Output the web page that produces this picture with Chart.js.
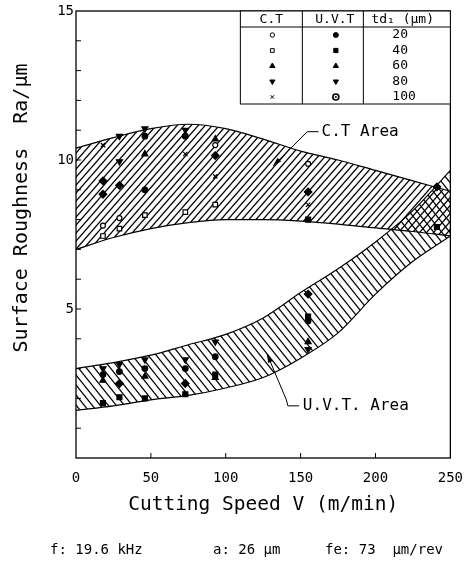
<!DOCTYPE html>
<html>
<head>
<meta charset="utf-8">
<script src="https://cdn.jsdelivr.net/npm/chart.js@4.4.1/dist/chart.umd.min.js"></script>
<style>
  html, body { margin: 0; padding: 0; background: #fff; }
  canvas { display: block; }
</style>
</head>
<body>
<canvas id="myChart" width="475" height="568"></canvas>
<script>
const MONO = "'DejaVu Sans Mono', monospace";

// band boundaries (Ra in um) read at these cutting speeds (m/min)
const speedGrid = [0, 25, 50, 75, 100, 125, 150, 175, 200, 225, 250];
const ctUpper  = [10.4, 10.75, 11.05, 11.2, 11.05, 10.7, 10.3, 10.0, 9.65, 9.3, 8.95];
const ctLower  = [7.0, 7.4, 7.7, 7.9, 8.0, 8.0, 7.95, 7.85, 7.72, 7.6, 7.45];
const uvtUpper = [3.0, 3.2, 3.45, 3.8, 4.15, 4.7, 5.55, 6.35, 7.25, 8.3, 9.65];
const uvtLower = [1.6, 1.75, 1.95, 2.1, 2.35, 2.7, 3.35, 4.2, 5.5, 6.6, 7.45];

// measured points, conventional cutting (C.T)
const ct20V = [18, 29, 93, 155];          const ct20Ra = [7.8, 8.05, 10.5, 9.87];
const ct40V = [18, 29, 46, 73, 93];       const ct40Ra = [7.45, 7.7, 8.15, 8.25, 8.5];
const ct60V = [46, 93];                   const ct60Ra = [10.2, 10.7];
const ct80V = [29, 29, 46];               const ct80Ra = [9.95, 10.8, 11.05];
const ct100V = [18, 73, 93, 155];         const ct100Ra = [10.5, 10.2, 9.45, 8.5];

// measured points, ultrasonic vibration cutting (U.V.T)
const uvt20V = [46, 73, 46, 18, 29, 46, 73, 93, 155];
const uvt20Ra = [9.0, 10.8, 10.8, 2.8, 2.9, 3.0, 3.0, 3.4, 4.6];
const uvt40V = [155, 241, 18, 29, 46, 73, 93, 155];
const uvt40Ra = [8.0, 7.75, 1.84, 2.04, 2.0, 2.14, 2.8, 4.75];
const uvt60V = [18, 46, 93, 155];         const uvt60Ra = [2.6, 2.74, 2.7, 3.9];
const uvt80V = [73, 18, 29, 46, 73, 93, 155];
const uvt80Ra = [11.0, 3.0, 3.14, 3.3, 3.3, 3.9, 3.65];
const uvt100V = [18, 29, 18, 93, 155, 241, 29, 73, 155];
const uvt100Ra = [9.3, 9.15, 8.85, 10.15, 8.93, 9.1, 2.5, 2.5, 5.5];

const tdLabels = ['20', '40', '60', '80', '100'];
const yLabelled = [5, 10, 15];

const toPoints = (xs, ys) => xs.map((v, i) => ({ x: v, y: ys[i] }));

function hatch(w, h, dir) {
    const c = document.createElement('canvas');
    c.width = w; c.height = h;
    const g = c.getContext('2d');
    g.strokeStyle = '#000';
    g.lineWidth = 1.25;
    for (let k = -1; k <= 1; k++) {
        g.beginPath();
        if (dir > 0) { g.moveTo(k * w - w, 2 * h); g.lineTo(k * w + 2 * w, -h); }
        else { g.moveTo(k * w - w, -h); g.lineTo(k * w + 2 * w, 2 * h); }
        g.stroke();
    }
    return g.createPattern(c, 'repeat');
}

const ctHatch = hatch(7, 8, 1);
const uvtHatch = hatch(8, 10, -1);

function marks(label, xs, ys, style, fill, radius, rotation) {
    return {
        label: label,
        data: toPoints(xs, ys),
        pointStyle: style,
        pointRadius: radius,
        pointRotation: rotation || 0,
        pointBackgroundColor: fill,
        pointBorderColor: '#000',
        pointBorderWidth: 1.2,
        showLine: false
    };
}

function boundary(label, ys, fill, pattern) {
    return {
        type: 'line',
        label: label,
        data: toPoints(speedGrid, ys),
        borderColor: '#000',
        borderWidth: 1.2,
        pointRadius: 0,
        pointHitRadius: 0,
        cubicInterpolationMode: 'monotone',
        fill: fill,
        backgroundColor: pattern || 'transparent'
    };
}

const legendRows = [
    { ct: { style: 'circle', fill: '#fff', r: 2.2 }, uvt: { style: 'circle', fill: '#000', r: 2.5 } },
    { ct: { style: 'rect', fill: '#fff', r: 2.6 }, uvt: { style: 'rect', fill: '#000', r: 3 } },
    { ct: { style: 'triangle', fill: '#000', r: 3 }, uvt: { style: 'triangle', fill: '#000', r: 3 } },
    { ct: { style: 'triangle', fill: '#000', r: 3, rot: 180 }, uvt: { style: 'triangle', fill: '#000', r: 3, rot: 180 } },
    { ct: { style: 'crossRot', fill: '#000', r: 2.5 }, uvt: { style: 'bull', fill: '#000', r: 3 } }
];

function drawSymbol(ctx, s, x, y) {
    if (s.style === 'bull') {
        ctx.save();
        ctx.lineWidth = 1.6;
        ctx.beginPath(); ctx.arc(x, y, s.r, 0, Math.PI * 2); ctx.stroke();
        ctx.beginPath(); ctx.arc(x, y, 1, 0, Math.PI * 2); ctx.fill();
        ctx.restore();
        return;
    }
    ctx.fillStyle = s.fill;
    Chart.helpers.drawPoint(ctx, {
        pointStyle: s.style, radius: s.r, rotation: s.rot || 0, borderWidth: 1
    }, x, y);
}

function arrow(ctx, pts) {
    ctx.beginPath();
    ctx.moveTo(pts[0][0], pts[0][1]);
    for (let i = 1; i < pts.length; i++) ctx.lineTo(pts[i][0], pts[i][1]);
    ctx.stroke();
    const [x1, y1] = pts[pts.length - 2];
    const [x2, y2] = pts[pts.length - 1];
    const a = Math.atan2(y2 - y1, x2 - x1);
    ctx.beginPath();
    ctx.moveTo(x2, y2);
    ctx.lineTo(x2 - 9 * Math.cos(a) + 2.5 * Math.sin(a), y2 - 9 * Math.sin(a) - 2.5 * Math.cos(a));
    ctx.lineTo(x2 - 9 * Math.cos(a) - 2.5 * Math.sin(a), y2 - 9 * Math.sin(a) + 2.5 * Math.cos(a));
    ctx.closePath();
    ctx.fill();
}

const paperPlugin = {
    id: 'paper',
    afterDraw(chart) {
        const { ctx, chartArea: a, scales: { x, y } } = chart;
        const px = v => x.getPixelForValue(v);
        const py = v => y.getPixelForValue(v);
        ctx.save();
        ctx.strokeStyle = '#000';
        ctx.fillStyle = '#000';

        // frame + inward ticks
        ctx.lineWidth = 1.3;
        ctx.strokeRect(a.left, a.top, a.right - a.left, a.bottom - a.top);
        ctx.lineWidth = 1;
        ctx.beginPath();
        for (let v = 1; v < 15; v++) { ctx.moveTo(a.left, py(v)); ctx.lineTo(a.left + 5, py(v)); }
        for (let v = 50; v < 250; v += 50) { ctx.moveTo(px(v), a.bottom); ctx.lineTo(px(v), a.bottom - 5); }
        ctx.stroke();

        // legend table
        const tw = 210, th = 93, hh = 16;
        const tx = a.right - tw, ty = a.top;
        const c1 = tx + 62, c2 = tx + 123;
        ctx.fillStyle = '#fff';
        ctx.fillRect(tx, ty, tw, th);
        ctx.fillStyle = '#000';
        ctx.lineWidth = 1;
        ctx.strokeRect(tx, ty, tw, th);
        ctx.beginPath();
        ctx.moveTo(tx, ty + hh); ctx.lineTo(tx + tw, ty + hh);
        ctx.moveTo(c1, ty); ctx.lineTo(c1, ty + th);
        ctx.moveTo(c2, ty); ctx.lineTo(c2, ty + th);
        ctx.stroke();
        ctx.font = '13px ' + MONO;
        ctx.textBaseline = 'middle';
        ctx.textAlign = 'center';
        ctx.fillText('C.T', (tx + c1) / 2, ty + 9);
        ctx.fillText('U.V.T', (c1 + c2) / 2 + 2, ty + 9);
        ctx.textAlign = 'left';
        ctx.fillText('td\u2081 (\u03bcm)', c2 + 8, ty + 9);
        legendRows.forEach((row, i) => {
            const ry = ty + 24 + i * 15.5;
            drawSymbol(ctx, row.ct, (tx + c1) / 2 + 1, ry);
            drawSymbol(ctx, row.uvt, (c1 + c2) / 2 + 3, ry);
            ctx.fillStyle = '#000';
            ctx.textAlign = 'left';
            ctx.font = '13px ' + MONO;
            ctx.fillText(tdLabels[i], c2 + 29, ry);
        });

        // area labels with leaders
        ctx.lineWidth = 1;
        ctx.font = '16px ' + MONO;
        ctx.textAlign = 'left';
        ctx.fillText('C.T Area', px(164), py(10.95));
        arrow(ctx, [[px(162), py(10.95)], [px(154.5), py(10.95)], [px(131.5), py(9.8)]]);
        ctx.fillText('U.V.T. Area', px(151.5), py(1.75));
        arrow(ctx, [[px(149), py(1.75)], [px(141.5), py(1.75)], [px(140.5), py(1.95)], [px(127.5), py(3.5)]]);

        // y axis title
        ctx.save();
        ctx.translate(22, 208);
        ctx.rotate(-Math.PI / 2);
        ctx.textAlign = 'center';
        ctx.font = '20px ' + MONO;
        ctx.fillText('Surface Roughness  Ra/\u03bcm', 0, 0);
        ctx.restore();

        // test conditions
        ctx.font = '14px ' + MONO;
        ctx.textAlign = 'left';
        ctx.fillText('f: 19.6 kHz', 50, 550);
        ctx.fillText('a: 26 \u03bcm', 213, 550);
        ctx.fillText('fe: 73  \u03bcm/rev', 325, 550);
        ctx.restore();
    }
};

Chart.defaults.color = '#000';
Chart.defaults.font.family = MONO;

const chart = document.getElementById('myChart');
const myChart = new Chart(chart, {
    type: 'scatter',
    data: {
        datasets: [
            marks('C.T 20', ct20V, ct20Ra, 'circle', '#fff', 2.5),
            marks('C.T 40', ct40V, ct40Ra, 'rect', '#fff', 3.2),
            marks('C.T 60', ct60V, ct60Ra, 'triangle', '#000', 3.5),
            marks('C.T 80', ct80V, ct80Ra, 'triangle', '#000', 3.5, 180),
            marks('C.T 100', ct100V, ct100Ra, 'crossRot', '#000', 3),
            marks('U.V.T 20', uvt20V, uvt20Ra, 'circle', '#000', 2.8),
            marks('U.V.T 40', uvt40V, uvt40Ra, 'rect', '#000', 3.5),
            marks('U.V.T 60', uvt60V, uvt60Ra, 'triangle', '#000', 3.5),
            marks('U.V.T 80', uvt80V, uvt80Ra, 'triangle', '#000', 3.5, 180),
            marks('U.V.T 100', uvt100V, uvt100Ra, 'rectRot', '#000', 3.8),
            boundary('C.T lower', ctLower, false),
            boundary('C.T Area', ctUpper, '-1', ctHatch),
            boundary('U.V.T lower', uvtLower, false),
            boundary('U.V.T. Area', uvtUpper, '-1', uvtHatch)
        ]
    },
    options: {
        responsive: false,
        animation: false,
        layout: { padding: { left: 0, right: 20, top: 11, bottom: 51 } },
        plugins: {
            legend: { display: false },
            tooltip: { enabled: false }
        },
        scales: {
            x: {
                type: 'linear',
                min: 0,
                max: 250,
                ticks: { stepSize: 50, padding: 12, maxRotation: 0, font: { size: 14 } },
                grid: { display: false, drawTicks: false },
                border: { display: false },
                title: {
                    display: true,
                    text: 'Cutting Speed V (m/min)',
                    font: { size: 19.5 },
                    padding: { top: 0, bottom: 0 }
                },
                afterFit: scale => { scale.height = 59; }
            },
            y: {
                min: 0,
                max: 15,
                ticks: {
                    stepSize: 1,
                    autoSkip: false,
                    padding: 2,
                    font: { size: 14 },
                    callback: v => yLabelled.includes(v) ? String(v) : ''
                },
                grid: { display: false, drawTicks: false },
                border: { display: false },
                afterFit: scale => { scale.height; scale.width = 76; }
            }
        }
    },
    plugins: [paperPlugin]
});
</script>
</body>
</html>
